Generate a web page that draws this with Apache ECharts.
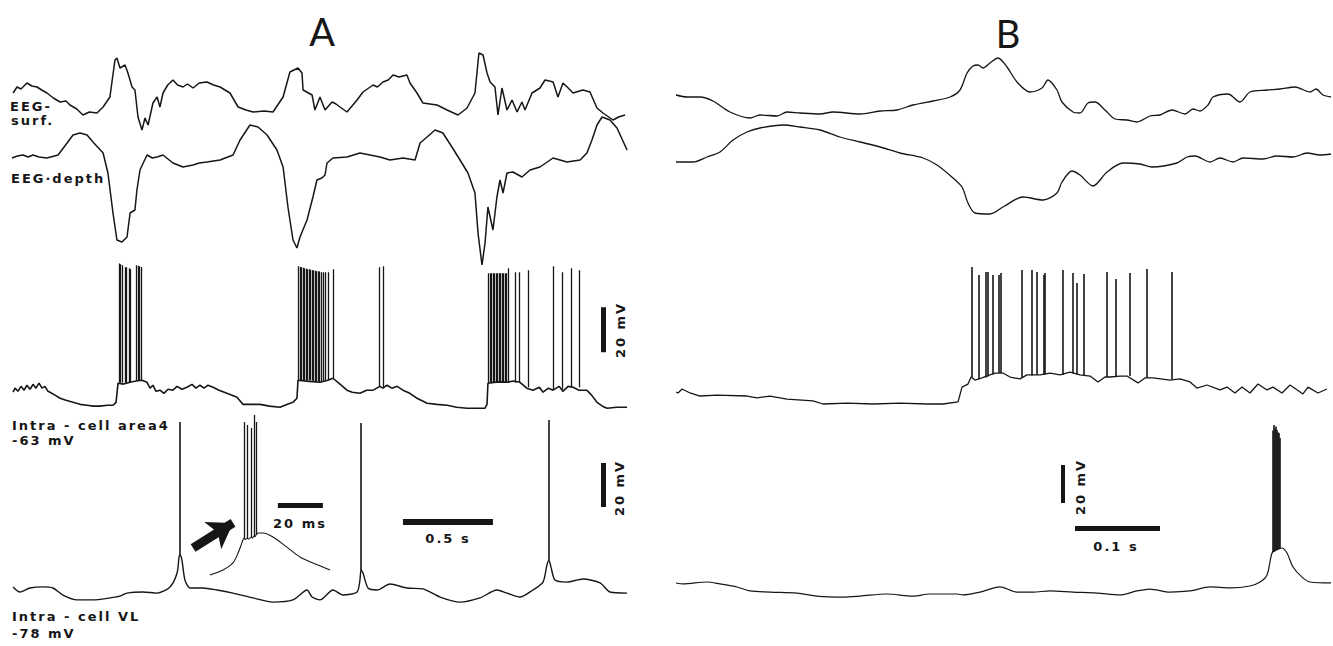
<!DOCTYPE html>
<html><head><meta charset="utf-8">
<script src="https://cdn.jsdelivr.net/npm/echarts@6/dist/echarts.min.js"></script>
<style>html,body{margin:0;padding:0;background:#fff}#c{width:1333px;height:646px}</style>
</head><body><div id="c"></div>
<script>
// ---------- Panel A (time in s, EEG in arbitrary units, intracellular in mV) ----------
const eegSurfA = [[0.006,2],[0.028,8],[0.05,6],[0.083,12],[0.11,9],[0.139,8],[0.165,5],[0.194,2],[0.23,-3],[0.267,-7],[0.3,-6],[0.322,-10],[0.36,-14],[0.394,-20],[0.43,-17],[0.472,-18],[0.506,-12],[0.544,-2],[0.572,35],[0.583,37],[0.6,27],[0.628,30],[0.644,22],[0.667,8],[0.683,5],[0.7,-22],[0.722,-35],[0.739,-23],[0.756,-30],[0.783,-8],[0.806,-2],[0.822,-12],[0.839,2],[0.865,10],[0.894,15],[0.92,10],[0.95,8],[0.975,11],[1.006,7],[1.04,12],[1.083,13],[1.12,10],[1.156,8],[1.211,2],[1.256,-12],[1.3,-15],[1.339,-17],[1.4,-16],[1.45,-17],[1.506,-2],[1.544,23],[1.589,27],[1.611,22],[1.617,5],[1.667,0],[1.683,-15],[1.711,-2],[1.739,-15],[1.778,-7],[1.8,-9],[1.822,-12],[1.861,-17],[1.917,-5],[1.95,3],[2.006,10],[2.03,8],[2.061,13],[2.09,15],[2.117,20],[2.15,18],[2.194,20],[2.211,12],[2.25,2],[2.283,-8],[2.361,-10],[2.417,-15],[2.478,-20],[2.528,-13],[2.572,2],[2.594,42],[2.617,40],[2.639,22],[2.656,13],[2.683,8],[2.7,-20],[2.722,7],[2.75,-15],[2.778,-5],[2.806,-17],[2.833,-7],[2.85,-15],[2.889,2],[2.933,7],[2.961,15],[2.985,14],[3.006,13],[3.033,-2],[3.061,12],[3.09,7],[3.117,2],[3.172,5],[3.211,3],[3.25,-13],[3.283,-18],[3.339,-25],[3.37,-22],[3.406,-20]];
const eegDepthA = [[0,2],[0.03,4],[0.061,5],[0.09,3],[0.117,5],[0.15,3],[0.194,2],[0.256,5],[0.306,17],[0.339,25],[0.378,27],[0.417,25],[0.45,18],[0.506,7],[0.533,-13],[0.561,-53],[0.583,-80],[0.611,-82],[0.639,-77],[0.656,-53],[0.683,-50],[0.694,-30],[0.711,-10],[0.75,5],[0.78,2],[0.806,3],[0.839,5],[0.894,-3],[0.95,-7],[1.006,-5],[1.04,-3],[1.083,-2],[1.156,0],[1.228,5],[1.267,20],[1.322,35],[1.367,33],[1.417,25],[1.472,10],[1.506,-7],[1.533,-47],[1.561,-80],[1.583,-88],[1.6,-77],[1.639,-60],[1.672,-37],[1.694,-20],[1.722,-18],[1.739,-15],[1.75,-3],[1.783,2],[1.861,3],[1.933,7],[1.989,5],[2.044,3],[2.1,0],[2.172,2],[2.239,0],[2.267,17],[2.306,23],[2.35,30],[2.394,27],[2.444,13],[2.489,0],[2.533,-13],[2.572,-33],[2.589,-73],[2.611,-105],[2.628,-83],[2.644,-47],[2.672,-70],[2.694,-37],[2.711,-20],[2.728,-33],[2.75,-13],[2.783,-12],[2.833,-17],[2.878,-10],[2.933,-7],[3.006,2],[3.083,-2],[3.156,0],[3.194,7],[3.222,20],[3.25,35],[3.278,43],[3.322,40],[3.361,32],[3.417,10]];
const area4TraceA = [[0.006,-57.2],[0.017,-55.4],[0.033,-56.8],[0.05,-54.6],[0.067,-56.3],[0.083,-54.1],[0.1,-55.9],[0.117,-53.7],[0.133,-55.4],[0.15,-53.2],[0.167,-55.4],[0.183,-54.6],[0.2,-56.8],[0.211,-57.2],[0.239,-58.5],[0.267,-59.9],[0.3,-60.8],[0.339,-61.7],[0.378,-62.6],[0.417,-63],[0.45,-63.4],[0.489,-63.4],[0.53,-63],[0.561,-63],[0.578,-61.7],[0.589,-53.2],[0.62,-53.6],[0.656,-52.8],[0.69,-52.2],[0.722,-51.9],[0.75,-52.8],[0.767,-55.4],[0.783,-54.1],[0.8,-56.8],[0.822,-56.3],[0.844,-57.7],[0.867,-55.9],[0.894,-56.3],[0.917,-54.6],[0.944,-55.9],[0.972,-55],[1.0,-53.7],[1.022,-55.4],[1.044,-54.1],[1.067,-55.4],[1.089,-54.1],[1.117,-55],[1.15,-56.3],[1.194,-57.7],[1.25,-59.4],[1.283,-62.6],[1.33,-62.6],[1.378,-62.6],[1.43,-63.4],[1.489,-63.9],[1.53,-62.6],[1.561,-61.7],[1.583,-59.9],[1.589,-51.9],[1.65,-52.4],[1.711,-52.8],[1.75,-52],[1.783,-51],[1.822,-53.6],[1.861,-56.3],[1.89,-57.2],[1.933,-57.7],[1.97,-56.3],[2.006,-56.3],[2.044,-54.6],[2.06,-55.4],[2.083,-54.1],[2.11,-55.4],[2.14,-54.6],[2.172,-56.3],[2.21,-57.7],[2.25,-59.9],[2.306,-62.1],[2.36,-62.6],[2.417,-63],[2.47,-63.9],[2.528,-64.3],[2.58,-64.3],[2.628,-64.3],[2.639,-62.6],[2.644,-53.2],[2.7,-52.6],[2.75,-52.8],[2.785,-52.2],[2.822,-52.8],[2.86,-55.4],[2.894,-56.3],[2.93,-55],[2.95,-57.2],[2.98,-55.4],[3.006,-56.3],[3.04,-54.6],[3.06,-56.8],[3.09,-54.6],[3.117,-55],[3.15,-56.3],[3.194,-56.3],[3.22,-58.5],[3.25,-61.7],[3.28,-63.4],[3.306,-64.3],[3.36,-63.9],[3.417,-63.9]];
// spikes: [time, base mV, peak mV]
const area4SpikesA = [[0.594,-53,0],[0.603,-53,-0.3],[0.611,-53,-0.8],[0.628,-53,-1.7],[0.636,-53,-1.7],[0.65,-53,-2.1],[0.656,-53,-2.5],[0.692,-52,-0.8],[0.7,-52,-1],[0.708,-52,-1.2],[0.717,-52,-1.5],
 [1.592,-52,-1.2],[1.6,-52,-1.5],[1.608,-52,-1.7],[1.617,-52,-1.9],[1.625,-52,-2.1],[1.633,-52,-2.3],[1.642,-52,-2.5],[1.65,-52,-2.5],[1.658,-52,-2.8],[1.667,-52,-3],[1.675,-52.5,-3],[1.683,-52.5,-3.2],[1.692,-52.5,-3.4],[1.7,-52.5,-3.4],[1.708,-52.5,-3.6],[1.717,-52.5,-3.9],[1.728,-52.5,-3.9],[1.739,-52,-3.9],[1.756,-52,-3.9],[1.783,-51,-2.5],[2.039,-55,-1.7],[2.061,-55,-1.2],
 [2.647,-53,-4.3],[2.656,-53,-4.3],[2.664,-53,-4.3],[2.672,-53,-4.3],[2.681,-53,-4.3],[2.689,-53,-4.3],[2.697,-53,-4.3],[2.706,-53,-4.3],[2.714,-53,-4.3],[2.722,-53,-4.3],[2.731,-53,-4.3],[2.739,-53,-4.3],[2.747,-53,-4.3],[2.756,-53,-2.1],[2.794,-53,-3.9],[2.817,-53,-3.9],[2.867,-55,-3],[3.006,-56,-1.2],[3.056,-56,-3.9],[3.106,-55,-2.1],[3.15,-55,-3]];
const vlTraceA = [[0.006,-76.6],[0.044,-78.9],[0.1,-77.1],[0.172,-76.6],[0.228,-77.1],[0.283,-80.3],[0.361,-82.5],[0.45,-82.5],[0.544,-81.6],[0.6,-80.8],[0.639,-79.4],[0.728,-78.9],[0.806,-79.4],[0.878,-76.6],[0.917,-70.3],[0.928,-63],[0.933,-62],[0.944,-64.4],[0.961,-73.5],[0.989,-77.1],[1.061,-77.1],[1.139,-78],[1.228,-79.4],[1.339,-81.6],[1.45,-83.5],[1.561,-82.5],[1.639,-78],[1.667,-81.2],[1.711,-82.5],[1.783,-78],[1.839,-80.3],[1.917,-78.9],[1.933,-73.5],[1.939,-68.9],[1.95,-70.3],[1.978,-77.1],[2.028,-78],[2.1,-75.3],[2.194,-77.1],[2.283,-77.5],[2.378,-81.2],[2.489,-83.5],[2.6,-81.6],[2.694,-78],[2.75,-79.4],[2.822,-81.2],[2.894,-78],[2.95,-74.4],[2.972,-66.6],[2.983,-64.4],[2.994,-67.5],[3.017,-73.5],[3.083,-74.4],[3.172,-73],[3.267,-74.8],[3.322,-78.9],[3.417,-79.4]];
const vlSpikesA = [[0.933,-62,-1.6],[1.939,-69,-2.1],[2.983,-64.4,-0.7]];
// inset (time in ms)
const insetTraceA = [[2.2,-71.2],[8.0,-68.9],[12.4,-65.7],[14.7,-61.2],[16.4,-56.6],[17.3,-54.4],[18.0,-55],[18.7,-54.5],[19.6,-54.8],[20.4,-54],[21.1,-54.4],[21.8,-53.5],[22.2,-53.8],[22.7,-53],[23.6,-52.1],[25.8,-52.1],[30.2,-53.9],[36.4,-58.5],[42.2,-63],[48.0,-65.7],[55.6,-68.9]];
const insetSpikesA = [[17.3,-54.4,-1.6],[18.7,-54.5,-3],[20.4,-54,-4.4],[21.8,-53.5,1.5],[22.7,-53,-1.6]];
// ---------- Panel B (time in ms) ----------
const eegTopB = [[0,5],[12.9,3],[28.2,3],[43.5,-1],[63.5,-12],[87.1,-18],[98.8,-15],[118.8,-16],[130.6,-12],[145.9,-13],[169.4,-14],[184.7,-12],[216.5,-14],[240,-11],[260,-10],[278.8,-5],[302.4,-1],[322.4,3],[334.1,10],[342.4,27],[349.4,34],[355.3,35],[361.2,32],[369.4,37],[378.8,42],[389.4,33],[401.2,18],[416.5,8],[430.6,12],[437.6,20],[448.2,10],[454.1,-2],[467.1,-12],[475.3,-13],[484.7,-3],[492.9,-2],[504.7,-10],[516.5,-19],[530.6,-20],[542.4,-22],[557.6,-16],[569.4,-15],[583.5,-10],[598.8,-14],[608.2,-9],[616.5,-11],[625.9,-5],[631.8,3],[649.4,6],[663.5,-2],[675.3,8],[695.3,10],[710.6,11],[728.2,13],[745.9,8],[752.9,11],[761.2,5],[770.6,3]];
const eegLowB = [[0,8],[20,8],[36.5,13],[51.8,18],[67.1,30],[83.5,38],[98.8,42],[125.9,45],[145.9,43],[169.4,40],[192.9,33],[216.5,28],[240,23],[263.5,17],[290.6,12],[307.1,5],[325.9,-8],[336.5,-17],[343.5,-33],[351.8,-43],[369.4,-44],[384.7,-37],[408.2,-27],[431.8,-30],[448.2,-23],[454.1,-12],[465.9,-1],[475.3,-5],[490.6,-16],[507.1,-2],[525.9,7],[545.9,6],[560,3],[589.4,7],[601.2,13],[610.6,14],[628.2,8],[640,12],[655.3,8],[667.1,12],[690.6,11],[707.1,14],[725.9,13],[742.4,17],[757.6,15],[770.6,16]];
const intraTopB = [[0,-63.7],[2.4,-64.2],[7.1,-62.1],[16.5,-64.2],[28.2,-65.8],[48.2,-65.3],[83.5,-65.8],[95.3,-66.8],[110.6,-65.8],[130.6,-67.4],[161.2,-68.4],[172.9,-70],[201.2,-69.5],[231.8,-70],[263.5,-69.5],[295.3,-70],[314.1,-70],[331.8,-68.9],[336.5,-61.1],[343.5,-59.5],[347.1,-55.8],[351.8,-57.4],[360,-56.3],[369.4,-54.7],[375.3,-53.7],[384.7,-53.7],[392.9,-55.8],[404.7,-56.8],[412.9,-54.7],[428.2,-54.7],[440,-53.7],[451.8,-54.7],[463.5,-53.2],[475.3,-54.7],[487.1,-55.3],[496.5,-58.4],[504.7,-55.8],[510.6,-55.8],[522.4,-55.3],[530.6,-55.3],[543.5,-58.9],[551.8,-56.3],[561.2,-56.3],[581.2,-57.4],[592.9,-56.8],[604.7,-58.4],[612.9,-61.6],[624.7,-60],[640,-62.6],[648.2,-61.1],[657.6,-64.2],[665.9,-61.1],[675.3,-64.2],[684.7,-59.5],[695.3,-62.6],[702.4,-61.1],[712.9,-64.2],[722.4,-60],[737.6,-64.7],[743.5,-61.1],[755.3,-64.2],[765.9,-62.1]];
const intraTopSpikesB = [[348.2,-56,2.1],[356.5,-57,-2.1],[364.7,-56,-0.5],[367.1,-55.5,-0.5],[372.9,-54.5,-2.1],[380,-53.7,-2.1],[381.8,-53.7,-1.1],[407.1,-56,0.5],[418.8,-55,0.5],[424.7,-54.7,-0.5],[432.9,-54.5,-2.1],[434.1,-54.5,-1.1],[455.3,-54.7,0.5],[467.1,-54,-1.1],[471.8,-54.5,-6.3],[480,-55,-1.6],[507.1,-55.8,-0.5],[517.6,-55.3,-4.2],[534.1,-55.3,-1.1],[554.1,-56.3,1.1],[583.5,-57,-0.5]];
const intraLowB = [[0,-66.3],[8.2,-66.8],[36.5,-65.8],[51.8,-66.8],[71.8,-68.4],[87.1,-70.5],[110.6,-71.1],[142.4,-71.6],[165.9,-73.2],[196.5,-73.7],[216.5,-73.2],[248.2,-72.1],[278.8,-73.2],[298.8,-72.1],[330.6,-72.1],[337.6,-72.6],[357.6,-71.1],[381.2,-68.4],[401.2,-71.1],[420,-71.1],[440,-70.5],[467.1,-71.1],[495.3,-71.6],[522.4,-72.6],[542.4,-70.5],[557.6,-69.5],[581.2,-71.1],[604.7,-70.5],[628.2,-68.4],[651.8,-68.9],[675.3,-67.9],[687.1,-65.8],[695.3,-62.1],[701.2,-50.5],[705.9,-49],[712.9,-47.9],[718.8,-50.5],[725.9,-57.9],[736.5,-63.2],[745.9,-65.8],[770.6,-66.3]];
const intraLowSpikesB = [[702.4,-50,14],[703.5,-50,16.8],[704.7,-49.5,15],[705.9,-49,16],[707.1,-49,14.2],[708.2,-48.5,13],[709.4,-48.5,12.6],[710.6,-48,10]];
// scale bars
const barA_halfSecond = [2.172, 2.672, -47.1];      // t0, t1 (s), level (mV) on VL axes
const barA_vl20mV = [3.283, -40.3, -20.3];          // t (s), v0, v1
const barA_area20mV = [3.283, -39.4, -19.4];
const barA_inset20ms = [32.4, 52.4, -39.4];         // ms
const barB_tenthSecond = [469.4, 569.4, -37.4];     // ms
const barB_20mV = [455.3, -24.2, -4.2];
const arrowA = [[1.006, -58.9], [1.228, -47.5]];

// ---------- layout ----------
const layouts = [
  {left:12, width:616, top:40, height:100, x:[0,3.4222], y:[-45,55]},     // 0 A EEG surf
  {left:12, width:616, top:110, height:170, x:[0,3.4222], y:[-120,50]},   // 1 A EEG depth
  {left:12, width:616, top:250, height:171, x:[0,3.4222], y:[-70,6]},     // 2 A area4
  {left:12, width:616, top:409.6, height:200.2, x:[0,3.4222], y:[-87,4]}, // 3 A VL
  {left:205, width:125, top:409.6, height:200.2, x:[0,55.56], y:[-87,4]}, // 4 A inset
  {left:676, width:654.5, top:40, height:100, x:[0,770], y:[-40,60]},     // 5 B EEG top
  {left:676, width:654.5, top:110, height:120, x:[0,770], y:[-60,60]},    // 6 B EEG low
  {left:676, width:654.5, top:250.1, height:169.1, x:[0,770], y:[-78,11]},// 7 B intra top
  {left:676, width:654.5, top:415.2, height:190, x:[0,770], y:[-78,22]}   // 8 B intra low
];
const INK = '#161616';
const grid = layouts.map(l => ({left:l.left, top:l.top, width:l.width, height:l.height, containLabel:false, show:false}));
const xAxis = layouts.map((l,i) => ({type:'value', gridIndex:i, min:l.x[0], max:l.x[1], show:false}));
const yAxis = layouts.map((l,i) => ({type:'value', gridIndex:i, min:l.y[0], max:l.y[1], show:false}));

function trace(data, idx, w, sm) {
  return {type:'line', xAxisIndex:idx, yAxisIndex:idx, data:data, showSymbol:false, symbol:'none', silent:true,
    clip:false, smooth:sm||false, lineStyle:{color:INK, width:w||1.3}, animation:false};
}
function spikes(list, idx, w) {
  return {type:'lines', coordinateSystem:'cartesian2d', xAxisIndex:idx, yAxisIndex:idx, silent:true, animation:false,
    lineStyle:{color:INK, width:w||1.2, opacity:1},
    data:list.map(s => ({coords:[[s[0], s[1]], [s[0], s[2]]]}))};
}
function hbar(b, idx, w) {
  return {type:'lines', coordinateSystem:'cartesian2d', xAxisIndex:idx, yAxisIndex:idx, silent:true, animation:false,
    lineStyle:{color:INK, width:w, opacity:1}, data:[{coords:[[b[0], b[2]], [b[1], b[2]]]}]};
}
function vbar(b, idx, w) {
  return {type:'lines', coordinateSystem:'cartesian2d', xAxisIndex:idx, yAxisIndex:idx, silent:true, animation:false,
    lineStyle:{color:INK, width:w, opacity:1}, data:[{coords:[[b[0], b[1]], [b[0], b[2]]]}]};
}

const series = [
  trace(eegSurfA, 0, 1.5), trace(eegDepthA, 1, 1.5),
  trace(area4TraceA, 2, 1.6), spikes(area4SpikesA, 2, 1.3),
  trace(vlTraceA, 3, 1.4, 0.25), spikes(vlSpikesA, 3, 1.6),
  trace(insetTraceA, 4, 1.1, 0.3), spikes(insetSpikesA, 4, 1.3),
  trace(eegTopB, 5, 1.3, 0.3), trace(eegLowB, 6, 1.3, 0.3),
  trace(intraTopB, 7, 1.3), spikes(intraTopSpikesB, 7, 1.6),
  trace(intraLowB, 8, 1.2, 0.3), spikes(intraLowSpikesB, 8, 1.6),
  hbar(barA_halfSecond, 3, 6), vbar(barA_vl20mV, 3, 5), vbar(barA_area20mV, 2, 5),
  hbar(barA_inset20ms, 4, 5), hbar(barB_tenthSecond, 8, 5), vbar(barB_20mV, 8, 4),
  {type:'lines', coordinateSystem:'cartesian2d', xAxisIndex:3, yAxisIndex:3, silent:true, animation:false,
   symbol:['none','arrow'], symbolSize:[0,24], lineStyle:{color:INK, width:9, opacity:1},
   data:[{coords:arrowA}]}
];

const LBL = 'bold 13px "DejaVu Sans"';
function label(text, x, y, align, rot) {
  return {type:'text', x:x, y:y, rotation:rot||0, silent:true,
    style:{text:text, font:LBL, fill:INK, align:align||'left', verticalAlign:'top'}};
}
const graphic = [
  {type:'text', x:322, y:12, silent:true, style:{text:'A', font:'38px Lato', fill:INK, align:'center', verticalAlign:'top'}},
  {type:'text', x:1008, y:14, silent:true, style:{text:'B', font:'38px Lato', fill:INK, align:'center', verticalAlign:'top'}},
  label('EEG-', 10, 100), label('surf.', 11, 114),
  label('EEG·depth', 11, 172),
  label('Intra - cell area4', 12, 419), label('-63 mV', 12, 434),
  label('Intra - cell VL', 12, 610), label('-78 mV', 12, 627),
  label('20 ms', 300, 517, 'center'), label('0.5 s', 448, 532, 'center'), label('0.1 s', 1116, 540, 'center'),
  {type:'text', x:614, y:330, rotation:Math.PI/2, silent:true, style:{text:'20 mV', font:LBL, fill:INK, align:'center', verticalAlign:'top'}},
  {type:'text', x:613, y:488, rotation:Math.PI/2, silent:true, style:{text:'20 mV', font:LBL, fill:INK, align:'center', verticalAlign:'top'}},
  {type:'text', x:1074, y:487, rotation:Math.PI/2, silent:true, style:{text:'20 mV', font:LBL, fill:INK, align:'center', verticalAlign:'top'}}
];

const chart = echarts.init(document.getElementById('c'), null, {renderer:'svg'});
chart.setOption({backgroundColor:'#fff', animation:false, grid, xAxis, yAxis, series, graphic});
function spaceLetters(){
  document.querySelectorAll('#c text').forEach(t => {
    const s = t.textContent;
    if (s !== 'A' && s !== 'B') t.style.letterSpacing = '2px';
  });
}
spaceLetters();
chart.on('finished', spaceLetters);
</script></body></html>
